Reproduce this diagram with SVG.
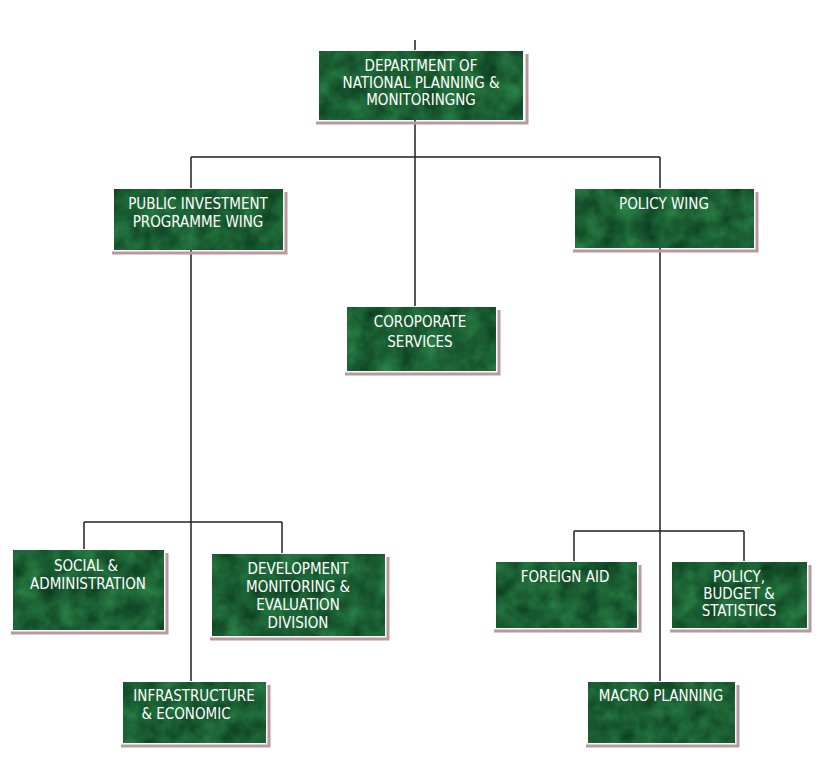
<svg xmlns="http://www.w3.org/2000/svg" width="820" height="764" viewBox="0 0 820 764">
<defs>
<filter id="marble" x="0" y="0" width="100%" height="100%" color-interpolation-filters="sRGB">
<feTurbulence type="fractalNoise" baseFrequency="0.05" numOctaves="3" seed="4" result="n"/>
<feColorMatrix in="n" type="matrix" values="0.15 0 0 0 0.03  0.35 0 0 0 0.2  0.2 0 0 0 0.1  0 0 0 0 1" result="c"/>
<feComposite in="c" in2="SourceGraphic" operator="in"/>
</filter>
</defs>
<style>
.sh{fill:none;stroke:#b89a9e;stroke-width:3}
.bx{fill:#1f5a36;stroke:#ffffff;stroke-width:2;filter:url(#marble)}
.t{font-family:"DejaVu Sans Condensed","DejaVu Sans",sans-serif;font-size:15px;fill:#ffffff;text-anchor:middle}
.c{stroke:#222;stroke-width:1.5;fill:none}
</style>
<rect width="820" height="764" fill="#ffffff"/>
<g id="connectors">
<path class="c" d="M415 40V50M415 120V306M191 157H660M191 157V188M660 157V188M191 250V681M660 248V681M84 522H282M84 522V549M282 522V553M574 531H744M574 531V561M744 531V561"/>
</g>
<g id="dept"><path class="sh" d="M527 54V123H316"/><rect class="bx" x="319" y="51" width="204" height="69"/><text class="t" x="421" y="71">DEPARTMENT OF</text><text class="t" x="421" y="88">NATIONAL PLANNING &amp;</text><text class="t" x="421" y="105">MONITORINGNG</text></g>
<g id="pip"><path class="sh" d="M286 192V253H112"/><rect class="bx" x="114" y="189" width="169" height="61"/><text class="t" x="198" y="209">PUBLIC INVESTMENT</text><text class="t" x="198" y="227">PROGRAMME WING</text></g>
<g id="policy"><path class="sh" d="M757 192V251H573"/><rect class="bx" x="575" y="189" width="179" height="59"/><text class="t" x="664" y="209">POLICY WING</text></g>
<g id="corp"><path class="sh" d="M499 310V374H345"/><rect class="bx" x="347" y="307" width="149" height="64"/><text class="t" x="420" y="327">COROPORATE</text><text class="t" x="420" y="347">SERVICES</text></g>
<g id="social"><path class="sh" d="M167 553V633H11"/><rect class="bx" x="13" y="550" width="151" height="80"/><text class="t" x="86" y="571">SOCIAL &amp;</text><text class="t" x="88" y="589">ADMINISTRATION</text></g>
<g id="dev"><path class="sh" d="M388 557V639H210"/><rect class="bx" x="212" y="554" width="173" height="82"/><text class="t" x="298" y="574">DEVELOPMENT</text><text class="t" x="298" y="592">MONITORING &amp;</text><text class="t" x="298" y="610">EVALUATION</text><text class="t" x="298" y="628">DIVISION</text></g>
<g id="infra"><path class="sh" d="M269 685V746H121"/><rect class="bx" x="123" y="682" width="143" height="61"/><text class="t" x="194" y="701">INFRASTRUCTURE</text><text class="t" x="186" y="719">&amp; ECONOMIC</text></g>
<g id="foreign"><path class="sh" d="M640 565V631H494"/><rect class="bx" x="496" y="562" width="141" height="66"/><text class="t" x="565" y="582">FOREIGN AID</text></g>
<g id="pbs"><path class="sh" d="M810 565V631H670"/><rect class="bx" x="672" y="562" width="135" height="66"/><text class="t" x="739" y="582">POLICY,</text><text class="t" x="739" y="599">BUDGET &amp;</text><text class="t" x="739" y="616">STATISTICS</text></g>
<g id="macro"><path class="sh" d="M738 685V746H586"/><rect class="bx" x="588" y="682" width="147" height="61"/><text class="t" x="661" y="701">MACRO PLANNING</text></g>
</svg>
